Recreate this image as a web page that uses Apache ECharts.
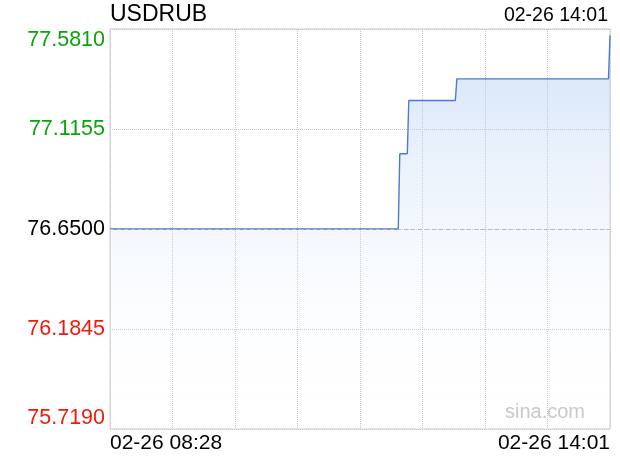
<!DOCTYPE html>
<html>
<head>
<meta charset="utf-8">
<script src="https://cdn.jsdelivr.net/npm/echarts@6/dist/echarts.min.js"></script>
<style>
  html, body { margin: 0; padding: 0; background: #fff; }
  #chart { width: 620px; height: 460px; }
</style>
</head>
<body>
<div id="chart"></div>
<script>
// USDRUB intraday
var symbol = "USDRUB";
var dateLabel = "02-26";
var startTime = "08:28";
var endTime = "14:01";
var prevClose = 76.65;
var yTicks = [75.7190, 76.1845, 76.6500, 77.1155, 77.5810];

var times = ["08:28", "11:40", "11:41", "11:46", "11:47", "12:18", "12:19", "14:00", "14:01"];
var values = [76.65, 76.65, 77.00, 77.00, 77.248, 77.248, 77.349, 77.349, 77.551];

function toMin(t) {
  var p = t.split(":");
  return (+p[0]) * 60 + (+p[1]);
}
var t0 = toMin(startTime);
var span = toMin(endTime) - t0;
// y in units of 0.0001 relative to previous close
var step = Math.round((yTicks[1] - yTicks[0]) * 10000);
var yMin = Math.round((yTicks[0] - prevClose) * 10000);
var yMax = Math.round((yTicks[yTicks.length - 1] - prevClose) * 10000);

var data = [];
for (var i = 0; i < times.length; i++) {
  data.push([toMin(times[i]) - t0, Math.round((values[i] - prevClose) * 10000)]);
}

var font = "Liberation Sans";
var chart = echarts.init(document.getElementById("chart"));
var option = {
  animation: false,
  title: [
    {
      text: symbol,
      left: 110,
      top: 3,
      padding: 0,
      textStyle: { fontFamily: font, fontWeight: "normal", fontSize: 23, color: "#000" }
    },
    {
      text: dateLabel + " " + endTime,
      right: 12,
      top: 6,
      padding: 0,
      textStyle: { fontFamily: font, fontWeight: "normal", fontSize: 19.5, color: "#000" }
    }
  ],
  graphic: [
    {
      type: "text",
      right: 35,
      top: 402,
      z: 100,
      style: { text: "sina.com", fontFamily: font, fontSize: 20, fill: "#c8c8c8" }
    }
  ],
  grid: {
    left: 110,
    right: 10,
    top: 29,
    bottom: 31,
    show: true,
    borderColor: "#cfcfcf",
    borderWidth: 1
  },
  xAxis: {
    type: "value",
    min: 0,
    max: span,
    interval: span / 8,
    axisLine: { show: false },
    axisTick: { show: false },
    splitLine: { show: true, lineStyle: { color: "#c4c4c4", type: "dotted" } },
    axisLabel: {
      showMinLabel: true,
      showMaxLabel: true,
      alignMinLabel: "left",
      alignMaxLabel: "right",
      margin: 4,
      fontFamily: font,
      fontSize: 21,
      color: "#000",
      formatter: function (v) {
        if (v === 0) return dateLabel + " " + startTime;
        if (Math.abs(v - span) < 1e-6) return dateLabel + " " + endTime;
        return "";
      }
    }
  },
  yAxis: {
    type: "value",
    min: yMin,
    max: yMax,
    interval: step,
    axisLine: { show: false },
    axisTick: { show: false },
    splitLine: { show: true, lineStyle: { color: "#c4c4c4", type: "dotted" } },
    axisLabel: {
      margin: 5,
      fontFamily: font,
      fontSize: 21.5,
      verticalAlignMaxLabel: "top",
      verticalAlignMinLabel: "bottom",
      formatter: function (v) {
        var s = (prevClose + v / 10000).toFixed(4);
        if (v > 0) return "{up|" + s + "}";
        if (v < 0) return "{down|" + s + "}";
        return "{mid|" + s + "}";
      },
      rich: {
        up: { color: "#0aa30a", fontSize: 21.5, fontFamily: font },
        down: { color: "#f01a0a", fontSize: 21.5, fontFamily: font },
        mid: { color: "#000", fontSize: 21.5, fontFamily: font }
      }
    }
  },
  series: [
    {
      type: "line",
      data: data,
      symbol: "none",
      lineStyle: { color: "#4a7bd0", width: 1.4 },
      areaStyle: {
        origin: "start",
        opacity: 1,
        color: new echarts.graphic.LinearGradient(0, 0, 0, 1, [
          { offset: 0, color: "rgba(165,198,242,0.5)" },
          { offset: 1, color: "rgba(255,255,255,0)" }
        ])
      },
      markLine: {
        silent: true,
        symbol: "none",
        label: { show: false },
        lineStyle: { color: "#b8b8b8", type: [4, 3], width: 1 },
        data: [{ yAxis: 0 }]
      }
    }
  ]
};
chart.setOption(option);
</script>
</body>
</html>
